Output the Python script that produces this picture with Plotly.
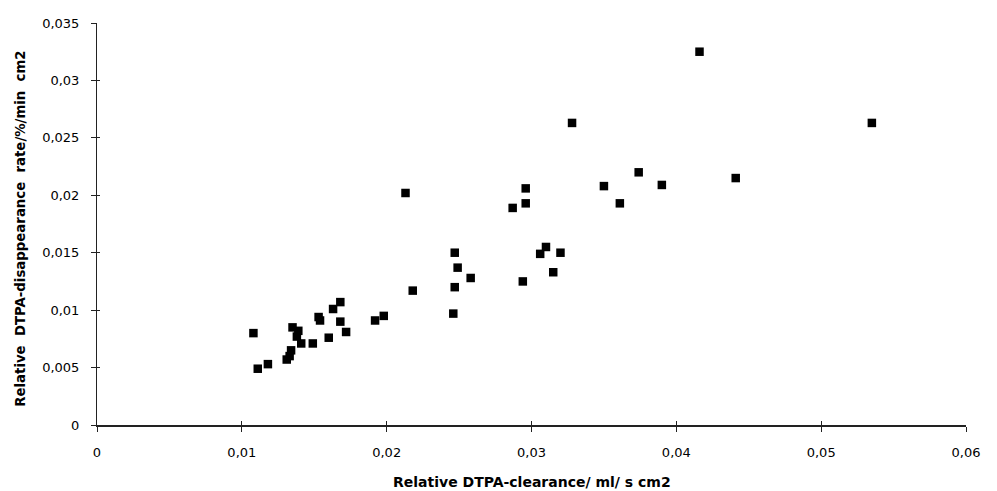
import plotly.graph_objects as go

# Relative DTPA-clearance (ml/ s cm2)
clearance = [0.0108, 0.0111, 0.0118, 0.0131, 0.0133, 0.0134, 0.0135, 0.0138, 0.0139, 0.0141,
             0.0149, 0.0153, 0.0154, 0.0160, 0.0163, 0.0168, 0.0168, 0.0172, 0.0192, 0.0198,
             0.0213, 0.0218, 0.0246, 0.0247, 0.0247, 0.0249, 0.0258, 0.0287, 0.0294, 0.0296,
             0.0296, 0.0306, 0.0310, 0.0315, 0.0320, 0.0328, 0.0350, 0.0361, 0.0374, 0.0390,
             0.0416, 0.0441, 0.0535]
# Relative DTPA-disappearance rate (%/min cm2)
disappearance = [0.0080, 0.0049, 0.0053, 0.0057, 0.0060, 0.0065, 0.0085, 0.0077, 0.0082, 0.0071,
                 0.0071, 0.0094, 0.0091, 0.0076, 0.0101, 0.0107, 0.0090, 0.0081, 0.0091, 0.0095,
                 0.0202, 0.0117, 0.0097, 0.0120, 0.0150, 0.0137, 0.0128, 0.0189, 0.0125, 0.0206,
                 0.0193, 0.0149, 0.0155, 0.0133, 0.0150, 0.0263, 0.0208, 0.0193, 0.0220, 0.0209,
                 0.0325, 0.0215, 0.0263]

x_title = "Relative DTPA-clearance/ ml/ s cm2"
y_title = "Relative  DTPA-disappearance  rate/%/min  cm2"

tick_font = "DejaVu Sans, Liberation Sans, Arial, sans-serif"
title_font = "DejaVu Sans, Liberation Sans, Arial, sans-serif"

fig = go.Figure()
fig.add_trace(go.Scatter(
    x=clearance, y=disappearance, mode="markers",
    marker=dict(symbol="square", size=8.5, color="black"),
    showlegend=False, hoverinfo="x+y",
))
# invisible trace for overlay axes (inner tick marks)
fig.add_trace(go.Scatter(x=[None], y=[None], xaxis="x2", yaxis="y2", showlegend=False))

axis_common = dict(showgrid=False, zeroline=False)
fig.update_layout(
    width=989, height=483,
    margin=dict(l=89, r=31, t=8, b=66),
    paper_bgcolor="white", plot_bgcolor="white",
    separators=",.",
    font=dict(family=tick_font, size=13, color="black"),
    xaxis=dict(range=[0, 0.06], dtick=0.01, tick0=0, ticks="outside", ticklen=5,
               tickcolor="#222", showline=True, linecolor="#222", linewidth=1.5,
               tickfont=dict(size=13, family=tick_font), ticklabelstandoff=10, **axis_common),
    yaxis=dict(range=[0, 0.035], dtick=0.005, tick0=0, ticks="outside", ticklen=5,
               tickcolor="#222", showline=True, linecolor="#222", linewidth=1,
               tickfont=dict(size=13, family=tick_font), ticklabelstandoff=9, **axis_common),
    xaxis2=dict(overlaying="x", matches="x", anchor="y2", ticks="inside", ticklen=4,
                tickcolor="#222", showticklabels=False, showline=False, **axis_common),
    yaxis2=dict(overlaying="y", matches="y", anchor="x2", ticks="inside", ticklen=3,
                tickcolor="#222", showticklabels=False, showline=False, **axis_common),
    annotations=[
        dict(text="<b>" + x_title + "</b>", xref="paper", yref="paper",
             x=0.5, y=-0.142, xanchor="center", yanchor="middle",
             showarrow=False, font=dict(size=14, family=title_font)),
        dict(text="<b>" + y_title + "</b>", xref="paper", yref="paper",
             x=-0.088, y=0.487, xanchor="center", yanchor="middle", textangle=-90,
             showarrow=False, font=dict(size=13.3, family=title_font)),
    ],
)

fig.write_html("out.html")
